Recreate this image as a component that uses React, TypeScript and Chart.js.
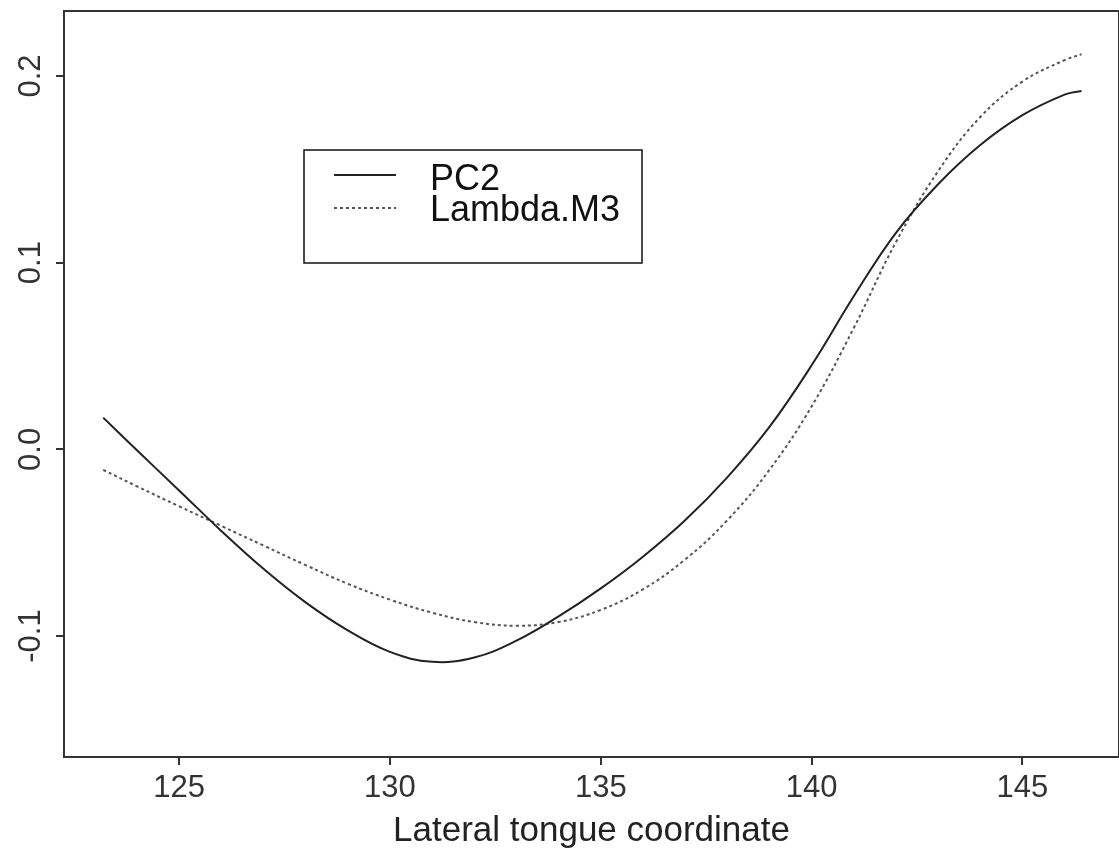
import React, { useEffect, useRef } from 'react';
import { Chart, registerables } from 'chart.js';

Chart.register(...registerables);

// Lateral tongue coordinate (x) sample positions
const xCoords = [123.2, 124, 125, 126, 127, 128, 129, 130, 131, 132, 133, 134, 135, 136, 137, 138, 139, 140, 141, 142, 143, 144, 145, 146, 146.4];
// Series values
const pc2Values = [0.017, -0.0005, -0.022, -0.0437, -0.064, -0.082, -0.097, -0.1085, -0.1138, -0.1115, -0.1025, -0.0895, -0.0745, -0.0575, -0.038, -0.015, 0.012, 0.045, 0.082, 0.116, 0.142, 0.163, 0.179, 0.19, 0.192];
const lambdaValues = [-0.011, -0.0198, -0.0305, -0.041, -0.0515, -0.062, -0.072, -0.0805, -0.0875, -0.0925, -0.0945, -0.0925, -0.086, -0.075, -0.059, -0.038, -0.011, 0.023, 0.065, 0.111, 0.149, 0.178, 0.197, 0.2085, 0.2116];
const seriesLabels = ['PC2', 'Lambda.M3'];
// Tick labels
const xTickValues = [125, 130, 135, 140, 145];
const yTickValues = [-0.1, 0.0, 0.1, 0.2];
const xAxisTitle = 'Lateral tongue coordinate';

const FONT = "'Liberation Sans', Arial, Helvetica, sans-serif";

const framePlugin = {
  id: 'frameBox',
  afterDraw(chart: any) {
    const { ctx, chartArea: a } = chart;
    ctx.save();
    ctx.strokeStyle = '#333';
    ctx.lineWidth = 2;
    ctx.strokeRect(a.left, a.top, a.right - a.left, a.bottom - a.top);
    ctx.restore();
  },
};

const boxLegendPlugin = {
  id: 'boxLegend',
  afterDraw(chart: any) {
    const { ctx } = chart;
    const bx = 304, by = 150, bw = 338, bh = 113;
    ctx.save();
    ctx.fillStyle = '#fff';
    ctx.fillRect(bx, by, bw, bh);
    ctx.strokeStyle = '#111';
    ctx.lineWidth = 1.5;
    ctx.strokeRect(bx, by, bw, bh);
    ctx.font = `36px ${FONT}`;
    ctx.textBaseline = 'alphabetic';
    ctx.textAlign = 'left';
    chart.data.datasets.forEach((ds: any, i: number) => {
      const ly = 175 + i * 33;
      ctx.beginPath();
      ctx.setLineDash(ds.borderDash || []);
      ctx.strokeStyle = ds.borderColor;
      ctx.lineWidth = ds.borderWidth;
      ctx.moveTo(334, ly);
      ctx.lineTo(396, ly);
      ctx.stroke();
      ctx.setLineDash([]);
      ctx.fillStyle = '#111';
      ctx.fillText(ds.label, 430, 190 + i * 31);
    });
    ctx.restore();
  },
};

export default function App() {
  const ref = useRef<HTMLCanvasElement | null>(null);

  useEffect(() => {
    if (!ref.current) return;
    const chart = new Chart(ref.current, {
      type: 'line',
      data: {
        datasets: [
          {
            label: seriesLabels[0],
            data: xCoords.map((x, i) => ({ x, y: pc2Values[i] })),
            borderColor: '#222',
            borderWidth: 2,
            pointRadius: 0,
            tension: 0.4,
            fill: false,
          },
          {
            label: seriesLabels[1],
            data: xCoords.map((x, i) => ({ x, y: lambdaValues[i] })),
            borderColor: '#555',
            borderWidth: 2,
            borderDash: [3, 3],
            pointRadius: 0,
            tension: 0.4,
            fill: false,
          },
        ],
      },
      options: {
        animation: false,
        responsive: false,
        events: [],
        layout: { padding: { top: 11, left: 0, right: 0, bottom: 0 } },
        plugins: { legend: { display: false }, tooltip: { enabled: false } },
        scales: {
          x: {
            type: 'linear',
            min: 122.27,
            max: 147.29,
            afterBuildTicks: (s: any) => {
              s.ticks = xTickValues.map((v) => ({ value: v }));
            },
            afterFit: (s: any) => {
              s.height = 93;
              s.paddingLeft = 0;
              s.paddingRight = 0;
            },
            border: { display: false },
            grid: { drawOnChartArea: false, drawTicks: true, tickLength: 8, color: '#333', lineWidth: 2 },
            ticks: {
              autoSkip: false,
              maxRotation: 0,
              padding: 5,
              color: '#333',
              font: { family: FONT, size: 31 },
              callback: (v: any) => String(v),
            },
            title: {
              display: true,
              text: xAxisTitle,
              color: '#222',
              font: { family: FONT, size: 35, lineHeight: 1 },
              padding: { top: 0, bottom: 1 },
            },
          },
          y: {
            type: 'linear',
            min: -0.1648,
            max: 0.2348,
            afterBuildTicks: (s: any) => {
              s.ticks = yTickValues.map((v) => ({ value: v }));
            },
            afterFit: (s: any) => {
              s.width = 64;
              s.paddingTop = 0;
              s.paddingBottom = 0;
            },
            border: { display: false },
            grid: { drawOnChartArea: false, drawTicks: true, tickLength: 8, color: '#333', lineWidth: 2 },
            ticks: {
              autoSkip: false,
              minRotation: 90,
              maxRotation: 90,
              crossAlign: 'center',
              padding: -2,
              color: '#333',
              font: { family: FONT, size: 31 },
              callback: (v: any) => Number(v).toFixed(1),
            },
          },
        },
      },
      plugins: [framePlugin, boxLegendPlugin],
    } as any);
    return () => chart.destroy();
  }, []);

  return (
    <div style={{ position: 'absolute', left: 0, top: 0, width: 1119, height: 850, background: '#fff' }}>
      <canvas ref={ref} width={1119} height={850} style={{ display: 'block', width: 1119, height: 850 }} />
    </div>
  );
}
